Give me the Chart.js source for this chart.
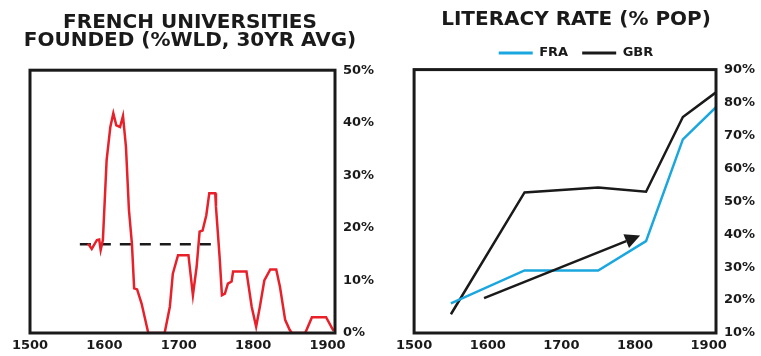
<!DOCTYPE html>
<html>
<head>
<meta charset="utf-8">
<script src="https://cdn.jsdelivr.net/npm/chart.js@4.4.1/dist/chart.umd.min.js"></script>
<style>
body { margin:0; background:#fff; width:761px; height:356px; overflow:hidden; position:relative; }
canvas { position:absolute; top:0; }
#uniChart { left:0; }
#litChart { left:391px; }
</style>
</head>
<body>
<canvas id="uniChart" width="380" height="356"></canvas>
<canvas id="litChart" width="370" height="356"></canvas>
<script>
// french universities founded, % of world, 30yr avg
const uniYears = [1578,1583,1590,1593,1595,1598,1603,1608,1612,1616,1621,1625,1629,1633,1637,1640,1644,1650,
	1659,1681,1688,1692,1699,1713,1719,1724,1728,1732,1737,1741,1749,1750,1755,1758,1762,1766,1771,1773,1791,1798,
	1804,1809,1815,1823,1831,1836,1843,1849,1852,1870,1879,1898,1908];
const uniShare = [17,16,17.7,17.8,15.8,17.7,32.9,39.2,41.8,39.5,39.2,41.3,35.4,23.4,17,8.5,8.3,5.6,
	0,0,5,11.3,14.8,14.8,7.2,12.6,19.3,19.5,22.4,26.6,26.6,24,14.2,7.2,7.5,9.4,9.8,11.7,11.7,5,
	1.2,5,10,12.1,12.1,8.8,2.5,0.6,0,0,3,3,0.4];
const avgYears = [1567, 1753];
const avgShare = [16.9, 16.9];

// literacy rate
const litYears = [1550, 1650, 1750, 1815, 1865, 1910];
const fraLit = [19, 29, 29, 37.9, 68.8, 78.6];
const gbrLit = [15.7, 52.7, 54.2, 52.9, 75.6, 83.1];
const arrowYears = [1595, 1807];
const arrowRates = [20.6, 39.6];

const yearTicks = [1500, 1600, 1700, 1800, 1900];
const uniTicks = [0, 10, 20, 30, 40, 50];
const litTicks = [10, 20, 30, 40, 50, 60, 70, 80, 90];

const FONT = "'DejaVu Sans', sans-serif";
const INK = '#1a1a1a';

const toPoints = (xs, ys) => xs.map((x, i) => ({x: x, y: ys[i]}));

// black box round the plot
const framePlugin = {
	id: 'frame',
	afterDatasetsDraw(chart) {
		const ctx = chart.ctx, a = chart.chartArea;
		ctx.save();
		ctx.lineWidth = 3;
		ctx.strokeStyle = INK;
		ctx.strokeRect(a.left, a.top, a.right - a.left, a.bottom - a.top);
		ctx.restore();
	}
};

// arrow on the literacy chart
const arrowPlugin = {
	id: 'arrow',
	afterDatasetsDraw(chart) {
		if (chart.canvas.id !== 'litChart') return;
		const ctx = chart.ctx, xs = chart.scales.x, ys = chart.scales.y;
		const x1 = xs.getPixelForValue(arrowYears[0]), y1 = ys.getPixelForValue(arrowRates[0]);
		const x2 = xs.getPixelForValue(arrowYears[1]), y2 = ys.getPixelForValue(arrowRates[1]);
		const ang = Math.atan2(y2 - y1, x2 - x1);
		const head = 15, wing = 7.5;
		const bx = x2 - head * Math.cos(ang), by = y2 - head * Math.sin(ang);
		ctx.save();
		ctx.strokeStyle = INK;
		ctx.fillStyle = INK;
		ctx.lineWidth = 2.5;
		ctx.beginPath();
		ctx.moveTo(x1, y1);
		ctx.lineTo(bx, by);
		ctx.stroke();
		ctx.beginPath();
		ctx.moveTo(x2, y2);
		ctx.lineTo(bx + wing * Math.sin(ang), by - wing * Math.cos(ang));
		ctx.lineTo(bx - wing * Math.sin(ang), by + wing * Math.cos(ang));
		ctx.closePath();
		ctx.fill();
		ctx.restore();
	}
};

function makeScales(yTicks, yMin, yMax, leftWidth) {
	return {
		x: {
			type: 'linear', min: 1500, max: 1910,
			afterBuildTicks: s => { s.ticks = yearTicks.map(v => ({value: v})); },
			afterFit: s => { s.height = 23; },
			grid: {display: false, drawTicks: false}, border: {display: false},
			ticks: {color: INK, font: {family: FONT, size: 13, weight: 'bold'}, padding: 5, maxRotation: 0, autoSkip: false,
				callback: v => String(v)}
		},
		y: {
			position: 'right', min: yMin, max: yMax,
			afterBuildTicks: s => { s.ticks = yTicks.map(v => ({value: v})); },
			afterFit: s => { s.width = 45; },
			grid: {display: false, drawTicks: false}, border: {display: false},
			ticks: {color: INK, font: {family: FONT, size: 13, weight: 'bold'}, padding: 8, callback: v => v + '%'}
		},
		pad: {
			position: 'left', display: true,
			afterFit: s => { s.width = leftWidth; },
			grid: {display: false}, border: {display: false},
			ticks: {display: false}
		}
	};
}

new Chart(document.getElementById('uniChart'), {
	type: 'line',
	data: {
		datasets: [
			{data: toPoints(uniYears, uniShare), borderColor: '#e8202a', borderWidth: 2.5, pointRadius: 0, tension: 0},
			{data: toPoints(avgYears, avgShare), borderColor: INK, borderWidth: 2.5, borderDash: [11, 9], pointRadius: 0}
		]
	},
	options: {
		responsive: false, animation: false,
		layout: {padding: 0},
		plugins: {
			legend: {display: false},
			tooltip: {enabled: false},
			title: {
				display: true, text: ['FRENCH UNIVERSITIES', 'FOUNDED (%WLD, 30YR AVG)'],
				color: INK, font: {family: FONT, size: 20, weight: 'bold', lineHeight: 0.88},
				padding: {top: 14, bottom: 21}
			}
		},
		scales: makeScales(uniTicks, 0, 50, 30)
	},
	plugins: [framePlugin]
});

new Chart(document.getElementById('litChart'), {
	type: 'line',
	data: {
		datasets: [
			{label: 'FRA', data: toPoints(litYears, fraLit), borderColor: '#1aa7e0', backgroundColor: '#1aa7e0', borderWidth: 2.5, pointRadius: 0},
			{label: 'GBR', data: toPoints(litYears, gbrLit), borderColor: INK, backgroundColor: INK, borderWidth: 2.5, pointRadius: 0}
		]
	},
	options: {
		responsive: false, animation: false,
		layout: {padding: 0},
		plugins: {
			tooltip: {enabled: false},
			title: {
				display: true, text: 'LITERACY RATE (% POP)',
				color: INK, font: {family: FONT, size: 20, weight: 'bold', lineHeight: 0.88},
				padding: {top: 11, bottom: 4}
			},
			legend: {
				display: true,
				labels: {
					color: INK, font: {family: FONT, size: 13, weight: 'bold'},
					boxWidth: 34, boxHeight: 3, padding: 14,
					generateLabels: chart => Chart.defaults.plugins.legend.labels.generateLabels(chart)
						.map(l => Object.assign(l, {lineWidth: 0}))
				}
			}
		},
		scales: makeScales(litTicks, 10, 90, 22)
	},
	plugins: [framePlugin, arrowPlugin]
});
</script>
</body>
</html>
